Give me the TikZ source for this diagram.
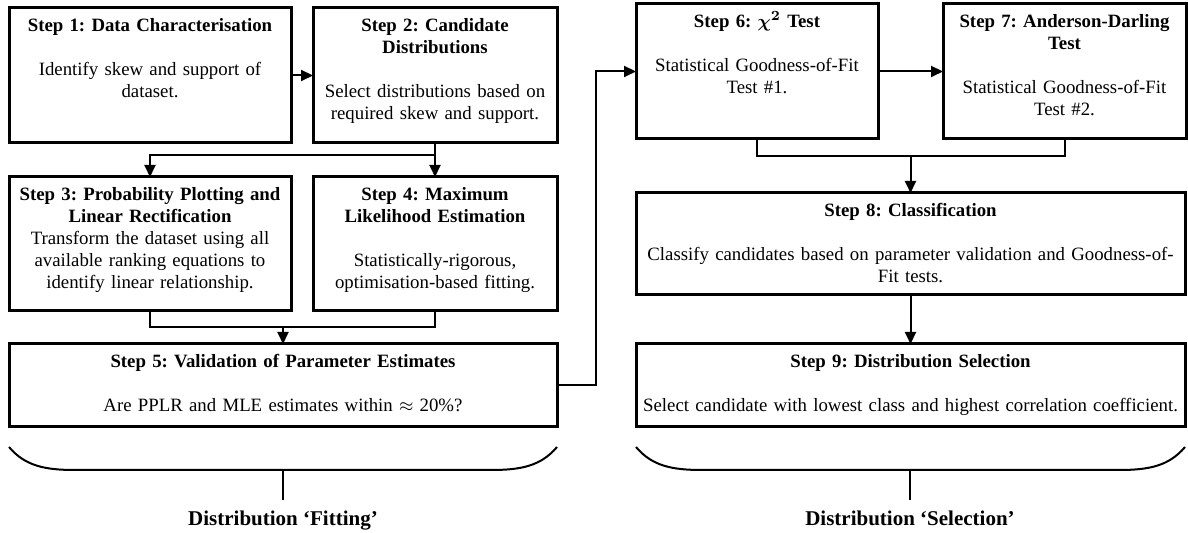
\documentclass[tikz,border=0pt]{standalone}
\usepackage{fontspec}
\setmainfont{Liberation Serif}
\usetikzlibrary{positioning, arrows.meta, calc}
\frenchspacing
\tikzset{
  stepbox/.style 2 args = {draw, rectangle, line width=1.5pt, anchor=north west,
                  align=center, inner xsep=3pt, inner ysep=5pt, outer sep=0pt,
                  text height=7pt, text width=#1, text depth=#2},
  ar/.style    = {-{Triangle[length=6pt, width=5.5pt]}, line width=1pt},
  ln/.style    = {line width=1pt},
  brc/.style   = {line width=1pt},
  grp/.style   = {font=\fontsize{10.5}{12}\selectfont\bfseries, inner sep=0pt, anchor=base},
}

\begin{document}
\begin{tikzpicture}[x=0.5pt, y=-0.5pt, every node/.style={font=\fontsize{9.4}{11}\selectfont}]
  \useasboundingbox (0,0) rectangle (1188,533);
  % fitting
  \node[stepbox={135pt}{50.5pt}] (s1) at (9,8)
    {\textbf{Step 1: Data Characterisation}\\[11pt]
     Identify skew and support of\\ dataset.};
  \node[stepbox={116pt}{50.5pt}] (s2) at (313,8)
    {\textbf{Step 2: Candidate}\\ \textbf{Distributions}\\[11pt]
     Select distributions based on\\ required skew and support.};
  \node[stepbox={135pt}{50pt}] (s3) at (9,177)
    {\textbf{Step 3: Probability Plotting and}\\ \textbf{Linear Rectification}\\
     Transform the dataset using all\\ available ranking equations to\\
     identify linear relationship.};
  \node[stepbox={116pt}{50pt}] (s4) at (313,177)
    {\textbf{Step 4: Maximum}\\ \textbf{Likelihood Estimation}\\[11pt]
     Statistically-rigorous,\\ optimisation-based fitting.};
  \node[stepbox={268pt}{24.5pt}] (s5) at (9,344)
    {\textbf{Step 5: Validation of Parameter Estimates}\\[11pt]
     Are PPLR and MLE estimates within $\approx$ 20\%?};
  % selection
  \node[stepbox={115pt}{50.5pt}] (s6) at (636,4)
    {\textbf{Step 6: {\boldmath$\chi^2$} Test}\\[11pt]
     Statistical Goodness-of-Fit\\ Test \#1.};
  \node[stepbox={115.5pt}{50.5pt}] (s7) at (943,4)
    {\textbf{Step 7: Anderson-Darling}\\ \textbf{Test}\\[11pt]
     Statistical Goodness-of-Fit\\ Test \#2.};
  \node[stepbox={268.5pt}{34pt}] (s8) at (636,193)
    {\textbf{Step 8: Classification}\\[11pt]
     Classify candidates based on parameter validation and Goodness-of-\\ Fit tests.};
  \node[stepbox={268.5pt}{24.5pt}] (s9) at (636,344)
    {\textbf{Step 9: Distribution Selection}\\[11pt]
     Select candidate with lowest class and highest correlation coefficient.};

  \draw[ar] (s1) -- (s2);
  \draw[ar] (s2.south) -- ++(0,12) -| (s3.north);
  \draw[ar] (s2.south) -- (s4.north);
  \draw[ln] (s3.south) -- ++(0,16) coordinate (j1) -| (s4.south);
  \draw[ar] (j1 -| s5.north) -- (s5.north);
  \draw[ar] (s5.east) -- ++(39,0) |- (s6.west);
  \draw[ar] (s6) -- (s7);
  \draw[ln] (s6.south) -- ++(0,17) coordinate (j2) -| (s7.south);
  \draw[ar] (j2 -| s8.north) -- (s8.north);
  \draw[ar] (s8) -- (s9);

  % braces
  \draw[brc] (9,447) .. controls (25,466) and (45,470) .. (75,470) -- (491,470)
    .. controls (521,470) and (541,466) .. (557,447);
  \coordinate (fb) at (283,470);
  \draw[brc] (fb) -- ++(0,30);
  \node[grp] (fit) at (283,526) {Distribution `Fitting'};

  \draw[brc] (636,447) .. controls (652,466) and (672,470) .. (702,470) -- (1119,470)
    .. controls (1149,470) and (1169,466) .. (1185,447);
  \coordinate (sb) at (910,470);
  \draw[brc] (sb) -- ++(0,30);
  \node[grp] (sel) at (910,526) {Distribution `Selection'};
\end{tikzpicture}
\end{document}
